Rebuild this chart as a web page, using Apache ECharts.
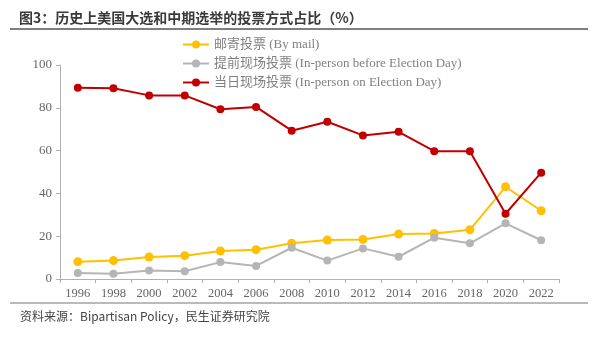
<!DOCTYPE html>
<html><head><meta charset="utf-8">
<script src="https://cdn.jsdelivr.net/npm/echarts@6/dist/echarts.min.js"></script>
<style>html,body{margin:0;padding:0;background:#fff}#c{width:598px;height:337px}</style>
</head><body><div id="c"></div>
<script>
const years = ['1996','1998','2000','2002','2004','2006','2008','2010','2012','2014','2016','2018','2020','2022'];
const mailName = '邮寄投票 (By mail)';
const earlyName = '提前现场投票 (In-person before Election Day)';
const dayName = '当日现场投票 (In-person on Election Day)';
const mail = [8.1, 8.6, 10.3, 10.9, 13.1, 13.7, 16.7, 18.2, 18.5, 21.0, 21.3, 23.0, 43.1, 31.9];
const early = [2.8, 2.5, 4.0, 3.6, 7.9, 6.1, 14.6, 8.6, 14.3, 10.4, 19.3, 16.7, 26.0, 18.1];
const electionDay = [89.4, 89.1, 85.8, 85.8, 79.3, 80.4, 69.3, 73.5, 67.1, 68.8, 59.7, 59.7, 30.5, 49.7];
const yTicks = [0, 20, 40, 60, 80, 100];

const chart = echarts.init(document.getElementById('c'), null, {renderer: 'canvas'});
const serif = '"Liberation Serif", "Times New Roman", "Noto Serif CJK SC", serif';
const cjkSerif = '"Liberation Serif", "Noto Sans CJK SC", serif';
function mk(name, data, color, size) {
  return {name, type: 'line', data, color, symbol: 'circle', symbolSize: size,
    lineStyle: {width: 2, color}, itemStyle: {color}, z: 3};
}
chart.setOption({
  animation: false,
  backgroundColor: '#fff',
  title: {
    text: '图3：历史上美国大选和中期选举的投票方式占比（%）',
    left: 14, top: 6,
    textStyle: {fontFamily: '"Noto Sans CJK SC", sans-serif', fontSize: 14, fontWeight: 'bold', color: '#3a3a3a'}
  },
  graphic: [
    {type: 'line', shape: {x1: 10, y1: 29, x2: 588, y2: 29}, style: {stroke: '#555', lineWidth: 1.5}},
    {type: 'line', shape: {x1: 10, y1: 303, x2: 588, y2: 303}, style: {stroke: '#777', lineWidth: 1.2}},
    {type: 'text', left: 20, top: 310, style: {text: '资料来源：Bipartisan Policy，民生证券研究院', fontFamily: '"Noto Sans CJK SC", sans-serif', fontSize: 12, fill: '#444'}}
  ],
  legend: {
    orient: 'vertical', left: 177, top: 33, itemGap: 6, itemWidth: 26, itemHeight: 10,
    data: [mailName, earlyName, dayName],
    textStyle: {fontFamily: cjkSerif, fontSize: 13, color: '#808080'}
  },
  grid: {left: 60, right: 39, top: 65, bottom: 58, containLabel: false},
  xAxis: {
    type: 'category', data: years, boundaryGap: true,
    axisLine: {lineStyle: {color: '#b0b0b0', width: 1}},
    axisTick: {show: true, inside: false, length: 4, lineStyle: {color: '#b0b0b0'}},
    axisLabel: {fontFamily: serif, fontSize: 12.5, color: '#666', margin: 8},
    splitLine: {show: false}
  },
  yAxis: {
    type: 'value', min: yTicks[0], max: yTicks[yTicks.length - 1], interval: 20,
    axisLine: {show: true, lineStyle: {color: '#b0b0b0', width: 1}},
    axisTick: {show: true, inside: false, length: 4, lineStyle: {color: '#b0b0b0'}},
    axisLabel: {fontFamily: serif, fontSize: 13, color: '#666', margin: 8},
    splitLine: {show: false}
  },
  series: [
    mk(mailName, mail, '#FFC000', 9),
    mk(earlyName, early, '#B5B5B5', 8),
    mk(dayName, electionDay, '#C00000', 8)
  ]
});
</script></body></html>
